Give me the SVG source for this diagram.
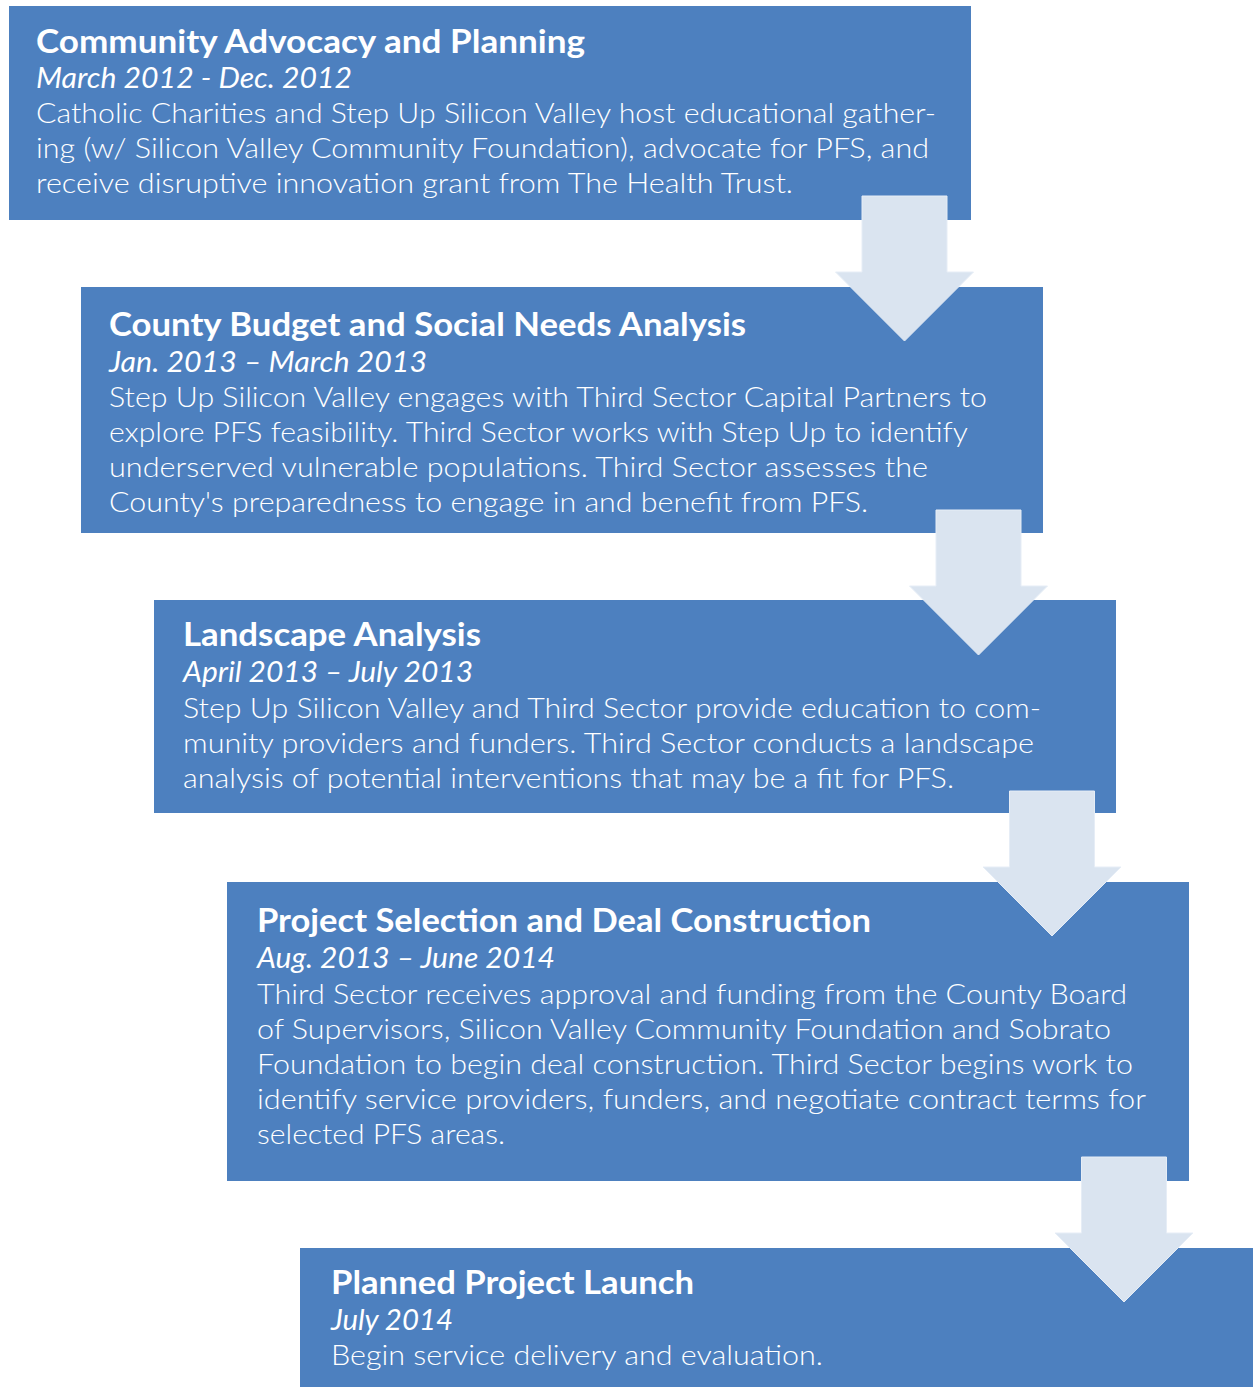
<svg xmlns="http://www.w3.org/2000/svg" width="1253" height="1387" viewBox="0 0 1253 1387">
  <style>
    .box { fill: #4D80BF; }
    .title { font-family: Lato, "Liberation Sans", sans-serif; font-weight: bold; font-size: 33px; fill: #FFFFFF; }
    .date { font-family: Lato, "Liberation Sans", sans-serif; font-style: italic; font-size: 28px; fill: #FFFFFF; }
    .body { font-family: Lato, "Liberation Sans", sans-serif; font-weight: 300; font-size: 26.5px; fill: #FFFFFF; }
    .arrow { fill: #DAE4F0; stroke: #E6EDF6; stroke-width: 1; }
  </style>
  <defs>
    <!-- block down-arrow, origin at the top centre of the shaft -->
    <path id="down" d="M -42.5 0 H 42.5 V 76 H 69 L 0 145 L -69 76 H -42.5 Z"/>
  </defs>

  <rect width="1253" height="1387" fill="#FFFFFF"/>

  <g id="community-advocacy">
    <rect class="box" x="9" y="6" width="962" height="214"/>
    <text class="title" x="36" y="53" textLength="549" lengthAdjust="spacingAndGlyphs">Community Advocacy and Planning</text>
    <text class="date" x="36" y="88" textLength="316" lengthAdjust="spacingAndGlyphs">March 2012 - Dec. 2012</text>
    <text class="body" x="36" y="123" textLength="900" lengthAdjust="spacingAndGlyphs">Catholic Charities and Step Up Silicon Valley host educational gather-</text>
    <text class="body" x="36" y="158" textLength="893" lengthAdjust="spacingAndGlyphs">ing (w/ Silicon Valley Community Foundation), advocate for PFS, and</text>
    <text class="body" x="36" y="193" textLength="757" lengthAdjust="spacingAndGlyphs">receive disruptive innovation grant from The Health Trust.</text>
  </g>

  <g id="county-budget">
    <rect class="box" x="81" y="287" width="962" height="246"/>
    <text class="title" x="109" y="336" textLength="637" lengthAdjust="spacingAndGlyphs">County Budget and Social Needs Analysis</text>
    <text class="date" x="109" y="372" textLength="318" lengthAdjust="spacingAndGlyphs">Jan. 2013 – March 2013</text>
    <text class="body" x="109" y="407" textLength="878" lengthAdjust="spacingAndGlyphs">Step Up Silicon Valley engages with Third Sector Capital Partners to</text>
    <text class="body" x="109" y="442" textLength="859" lengthAdjust="spacingAndGlyphs">explore PFS feasibility. Third Sector works with Step Up to identify</text>
    <text class="body" x="109" y="477" textLength="819" lengthAdjust="spacingAndGlyphs">underserved vulnerable populations. Third Sector assesses the</text>
    <text class="body" x="109" y="512" textLength="759" lengthAdjust="spacingAndGlyphs">County's preparedness to engage in and benefit from PFS.</text>
  </g>

  <g id="landscape-analysis">
    <rect class="box" x="154" y="600" width="962" height="213"/>
    <text class="title" x="183" y="646" textLength="298" lengthAdjust="spacingAndGlyphs">Landscape Analysis</text>
    <text class="date" x="183" y="682" textLength="290" lengthAdjust="spacingAndGlyphs">April 2013 – July 2013</text>
    <text class="body" x="183" y="718" textLength="858" lengthAdjust="spacingAndGlyphs">Step Up Silicon Valley and Third Sector provide education to com-</text>
    <text class="body" x="183" y="753" textLength="851" lengthAdjust="spacingAndGlyphs">munity providers and funders. Third Sector conducts a landscape</text>
    <text class="body" x="183" y="788" textLength="771" lengthAdjust="spacingAndGlyphs">analysis of potential interventions that may be a fit for PFS.</text>
  </g>

  <g id="project-selection">
    <rect class="box" x="227" y="882" width="962" height="299"/>
    <text class="title" x="257" y="932" textLength="614" lengthAdjust="spacingAndGlyphs">Project Selection and Deal Construction</text>
    <text class="date" x="257" y="968" textLength="298" lengthAdjust="spacingAndGlyphs">Aug. 2013 – June 2014</text>
    <text class="body" x="257" y="1004" textLength="870" lengthAdjust="spacingAndGlyphs">Third Sector receives approval and funding from the County Board</text>
    <text class="body" x="257" y="1039" textLength="854" lengthAdjust="spacingAndGlyphs">of Supervisors, Silicon Valley Community Foundation and Sobrato</text>
    <text class="body" x="257" y="1074" textLength="876" lengthAdjust="spacingAndGlyphs">Foundation to begin deal construction. Third Sector begins work to</text>
    <text class="body" x="257" y="1109" textLength="889" lengthAdjust="spacingAndGlyphs">identify service providers, funders, and negotiate contract terms for</text>
    <text class="body" x="257" y="1144" textLength="248" lengthAdjust="spacingAndGlyphs">selected PFS areas.</text>
  </g>

  <g id="project-launch">
    <rect class="box" x="300" y="1248" width="953" height="139"/>
    <text class="title" x="331" y="1294" textLength="363" lengthAdjust="spacingAndGlyphs">Planned Project Launch</text>
    <text class="date" x="331" y="1330" textLength="122" lengthAdjust="spacingAndGlyphs">July 2014</text>
    <text class="body" x="331" y="1365" textLength="492" lengthAdjust="spacingAndGlyphs">Begin service delivery and evaluation.</text>
  </g>

  <g id="connectors">
    <use href="#down" class="arrow" x="904.5" y="196"/>
    <use href="#down" class="arrow" x="978.5" y="510"/>
    <use href="#down" class="arrow" x="1052" y="791"/>
    <use href="#down" class="arrow" x="1124" y="1157"/>
  </g>
</svg>
